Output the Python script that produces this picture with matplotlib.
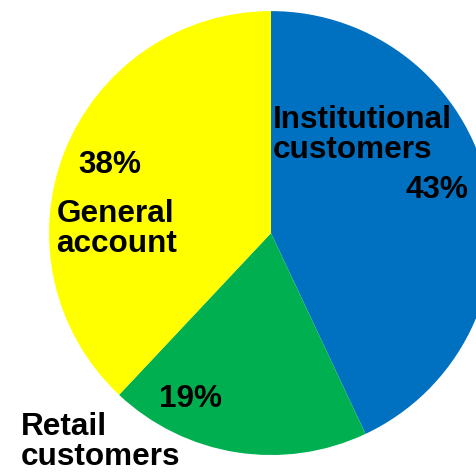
import matplotlib
matplotlib.use("Agg")
import matplotlib.pyplot as plt

# share of assets by customer type
categories = ["Institutional\ncustomers", "Retail\ncustomers", "General\naccount"]
shares = [43, 19, 38]
colors = ["#0070C0", "#00B050", "#FFFF00"]

plt.rcParams["font.family"] = ["Liberation Sans", "DejaVu Sans"]

fig = plt.figure(figsize=(4.77, 4.73), dpi=100)
ax = fig.add_axes([0, 0, 1, 1])
ax.pie(shares, colors=colors, startangle=90, counterclock=False, radius=1.0,
       wedgeprops=dict(linewidth=0))
ax.set_xlim(-1.221, 0.928)
ax.set_ylim(-1.081, 1.050)
ax.set_aspect("auto")
ax.axis("off")

fs = 22.7
# category labels: (x of left edge, baseline of first line)
name_pos = [(0.010, 0.472), (-1.127, -0.910), (-0.967, 0.051)]
step = 0.136
for name, (x, y) in zip(categories, name_pos):
    for i, line in enumerate(name.split("\n")):
        ax.text(x, y - i * step, line, fontsize=fs, fontweight="bold",
                ha="left", va="baseline")

# percentage labels
pct_pos = [(0.890, 0.158, "right"), (-0.365, -0.784, "center"), (-0.725, 0.269, "center")]
for s, (x, y, ha) in zip(shares, pct_pos):
    ax.text(x, y, f"{s}%", fontsize=fs, fontweight="bold", ha=ha, va="baseline")

fig.savefig("out.png", dpi=100)
